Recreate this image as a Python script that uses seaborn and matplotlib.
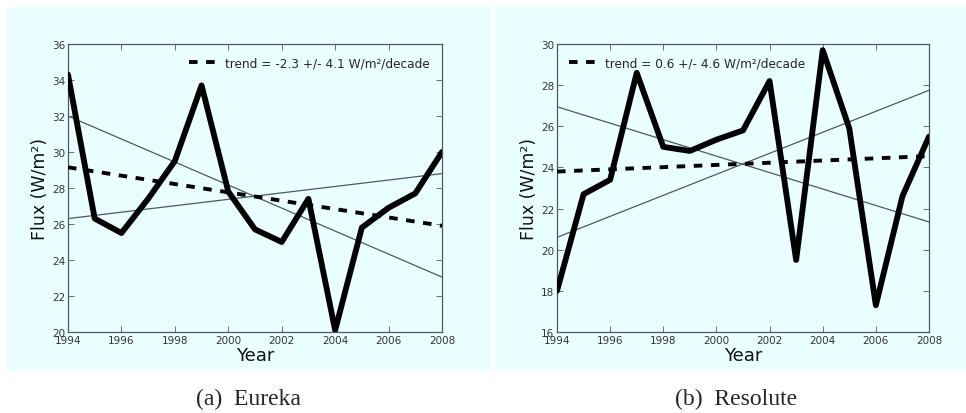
import matplotlib
matplotlib.use("Agg")
import matplotlib.pyplot as plt
import seaborn as sns
import pandas as pd
from matplotlib.patches import Rectangle

years = list(range(1994, 2009))
eureka_flux = [34.3, 26.3, 25.5, 27.4, 29.5, 33.7, 27.8, 25.7, 25.0, 27.4, 20.1, 25.8, 26.9, 27.7, 30.0]
resolute_flux = [18.0, 22.7, 23.4, 28.6, 25.0, 24.8, 25.35, 25.8, 28.2, 19.5, 29.7, 25.9, 17.3, 22.6, 25.5]

# trend lines: (value at 1994, value at 2008)
eureka_trend = [29.15, 25.9]
eureka_bound_a = [32.0, 23.05]
eureka_bound_b = [26.3, 28.8]
resolute_trend = [23.8, 24.55]
resolute_bound_a = [26.95, 21.35]
resolute_bound_b = [20.6, 27.75]

eureka_label = "trend = -2.3 +/- 4.1 W/m\u00b2/decade"
resolute_label = "trend = 0.6 +/- 4.6 W/m\u00b2/decade"
eureka_ylim = (20, 36)
resolute_ylim = (16, 30)
captions = ["(a)  Eureka", "(b)  Resolute"]

sns.set_style("ticks")
plt.rcParams['font.family'] = ['DejaVu Sans']

W, H = 966, 414
fig = plt.figure(figsize=(W / 100, H / 100), dpi=100)
bg = "#eaffff"
spine_c = "#50566a"

# panel backgrounds
for px0, px1 in [(7, 491), (495, 966)]:
    r = Rectangle((px0 / W, 1 - 372 / H), (px1 - px0) / W, (372 - 8) / H,
                  transform=fig.transFigure, facecolor=bg, edgecolor="none", zorder=-10)
    fig.add_artist(r)

panels = [
    (68, 442, eureka_flux, eureka_trend, eureka_bound_a, eureka_bound_b, eureka_label, eureka_ylim, "upper right", 248),
    (557, 929, resolute_flux, resolute_trend, resolute_bound_a, resolute_bound_b, resolute_label, resolute_ylim, "upper left", 736),
]

for (x0, x1, flux, trend, ba, bb, lab, ylim, loc, capx), cap in zip(panels, captions):
    top, bot = 45, 333
    ax = fig.add_axes([x0 / W, 1 - bot / H, (x1 - x0) / W, (bot - top) / H])
    ax.set_facecolor(bg)
    df = pd.DataFrame({"Year": years, "Flux": flux})
    ends = [years[0], years[-1]]
    sns.lineplot(x=ends, y=ba, ax=ax, color=spine_c, lw=0.9, zorder=2)
    sns.lineplot(x=ends, y=bb, ax=ax, color=spine_c, lw=0.9, zorder=2)
    sns.lineplot(x=ends, y=trend, ax=ax, color="black", lw=2.8, ls=(0, (2.2, 2.2)), zorder=3, label=lab)
    sns.lineplot(data=df, x="Year", y="Flux", ax=ax, color="black", lw=4.2, zorder=4)
    ax.set_xlim(1994, 2008)
    ax.set_ylim(*ylim)
    ax.set_xticks(range(1994, 2009, 2))
    ax.set_yticks(range(ylim[0], ylim[1] + 1, 2))
    ax.tick_params(direction="in", length=4, width=0.6, labelsize=7.5, colors=spine_c,
                   labelcolor="#333333", top=True, right=True, pad=2)
    for s in ax.spines.values():
        s.set_color(spine_c)
        s.set_linewidth(0.9)
    ax.set_xlabel("Year", fontsize=13, labelpad=1, color="#111111")
    ax.set_ylabel("Flux (W/m\u00b2)", fontsize=12.5, labelpad=2, color="#111111")
    leg = ax.legend(loc=loc, frameon=False, fontsize=8.7, handlelength=2.2, handletextpad=0.8,
                    borderaxespad=0.6)
    fig.text(capx / W, 1 - 399 / H, cap, ha="center", va="center",
             family=["Liberation Serif"], fontsize=17)

fig.savefig("out.png", dpi=100, facecolor="white")
